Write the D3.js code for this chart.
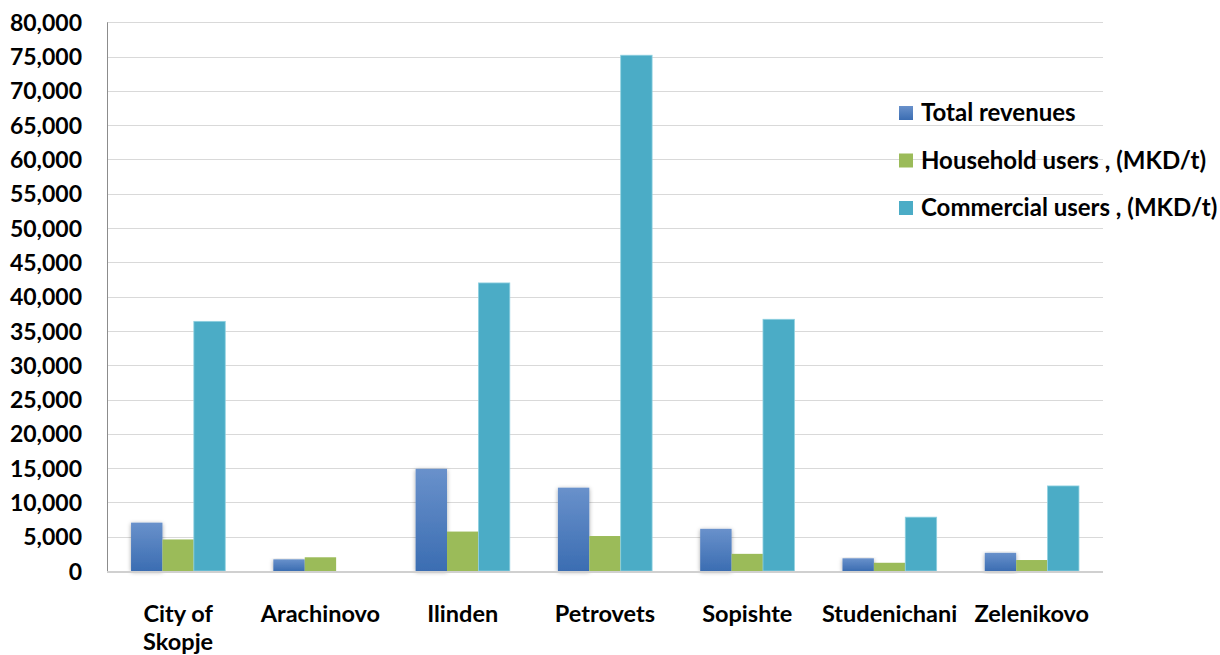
<!DOCTYPE html>
<html>
<head>
<meta charset="utf-8">
<script src="https://cdn.jsdelivr.net/npm/d3@7"></script>
<style>
  html, body { margin: 0; padding: 0; background: #ffffff; }
  svg { display: block; }
  text { font-family: Lato, "Open Sans", "DejaVu Sans", sans-serif; font-weight: 700; fill: #000; }
</style>
</head>
<body>
<svg id="chart" width="1220" height="655"></svg>
<script>
// Municipalities along the x axis
const categories = ["City of|Skopje", "Arachinovo", "Ilinden", "Petrovets", "Sopishte", "Studenichani", "Zelenikovo"];
// Series names
const seriesNames = ["Total revenues", "Household users , (MKD/t)", "Commercial users , (MKD/t)"];
// Series values per municipality
const totalRevenues   = [7050, 1700, 14900, 12150, 6150, 1850, 2650];
const householdUsers  = [4600, 2000, 5750, 5100, 2500, 1200, 1600];
const commercialUsers = [36400, 0, 42000, 75200, 36700, 7850, 12400];
// Value axis ticks
const yTicks = d3.range(0, 80001, 5000);

const seriesValues = [totalRevenues, householdUsers, commercialUsers];
const colors = ["url(#blueGrad)", "#9bbb59", "#4bacc6"];
const legendColors = ["#4f81bd", "#9bbb59", "#4bacc6"];

const svg = d3.select("#chart");
const plot = { left: 107, right: 1103, top: 22.3, bottom: 571 };

const defs = svg.append("defs");
const grad = defs.append("linearGradient")
  .attr("id", "blueGrad").attr("x1", 0).attr("y1", 0).attr("x2", 0).attr("y2", 1);
grad.append("stop").attr("offset", "0%").attr("stop-color", "#6991cb");
grad.append("stop").attr("offset", "100%").attr("stop-color", "#3b6db2");
const shadow = defs.append("filter").attr("id", "barShadow")
  .attr("x", "-30%").attr("y", "-10%").attr("width", "160%").attr("height", "125%");
shadow.append("feDropShadow").attr("dx", 0).attr("dy", 1).attr("stdDeviation", 2)
  .attr("flood-color", "#000").attr("flood-opacity", 0.35);

const y = d3.scaleLinear().domain([0, 80000]).range([plot.bottom, plot.top]);
const x0 = d3.scaleBand().domain(categories).range([plot.left, plot.right])
  .paddingInner(0.338).paddingOuter(0.169);
const x1 = d3.scaleBand().domain(d3.range(seriesNames.length)).range([0, x0.bandwidth()]);

// Gridlines
svg.append("g").selectAll("line").data(yTicks.filter(d => d > 0)).join("line")
  .attr("x1", plot.left).attr("x2", plot.right)
  .attr("y1", d => Math.round(y(d)) + 0.5).attr("y2", d => Math.round(y(d)) + 0.5)
  .attr("stroke", "#d9d9d9").attr("stroke-width", 1);

// Value axis labels
const yAxis = d3.axisLeft(y).tickValues(yTicks).tickSize(0).tickPadding(0)
  .tickFormat(d3.format(","));
const yg = svg.append("g").attr("transform", `translate(82,0)`).call(yAxis);
yg.select(".domain").remove();
yg.selectAll("text").attr("font-size", 23).attr("dy", "0.35em")
  .style("font-family", "Lato, 'Open Sans', sans-serif").style("font-weight", 700).attr("fill", "#000");

// Bars
const groups = svg.append("g").selectAll("g").data(categories).join("g")
  .attr("transform", d => `translate(${x0(d)},0)`);
groups.selectAll("rect")
  .data((d, i) => seriesValues.map((vals, s) => ({ s, v: vals[i] })))
  .join("rect")
  .filter(d => d.v > 0)
  .attr("x", d => x1(d.s))
  .attr("width", x1.bandwidth())
  .attr("y", d => y(d.v))
  .attr("height", d => y(0) - y(d.v))
  .attr("fill", d => colors[d.s])
  .attr("filter", d => d.s === 0 ? "url(#barShadow)" : null);
// cyan bars have a faint light edge
groups.selectAll("rect").filter(d => d.s === 2)
  .attr("stroke", "#8fd0e0").attr("stroke-width", 0.8);

// Axis lines
svg.append("line").attr("x1", plot.left + 0.5).attr("x2", plot.left + 0.5)
  .attr("y1", plot.top).attr("y2", plot.bottom + 1)
  .attr("stroke", "#8c8c8c").attr("stroke-width", 1);
svg.append("line").attr("x1", plot.left).attr("x2", plot.right)
  .attr("y1", plot.bottom + 1).attr("y2", plot.bottom + 1)
  .attr("stroke", "#d0d0d0").attr("stroke-width", 2);

// Category labels (two lines where split by "|")
const xl = svg.append("g").selectAll("text").data(categories).join("text")
  .attr("x", d => x0(d) + x0.bandwidth() / 2)
  .attr("y", 622)
  .attr("text-anchor", "middle")
  .attr("font-size", 23.5);
xl.each(function (d) {
  const parts = d.split("|");
  d3.select(this).selectAll("tspan").data(parts).join("tspan")
    .attr("x", x0(d) + x0.bandwidth() / 2)
    .attr("dy", (p, i) => i === 0 ? 0 : 28)
    .text(p => p);
});

// Legend
const legend = svg.append("g").selectAll("g").data(seriesNames).join("g")
  .attr("transform", (d, i) => `translate(899,${113 + i * 47.5})`);
legend.append("rect").attr("x", 0).attr("y", -7).attr("width", 14).attr("height", 14)
  .attr("fill", (d, i) => i === 0 ? "url(#blueGrad)" : legendColors[i]);
legend.append("text").attr("x", 22).attr("y", 0).attr("dy", "0.35em")
  .attr("font-size", 24).text(d => d);
</script>
</body>
</html>
